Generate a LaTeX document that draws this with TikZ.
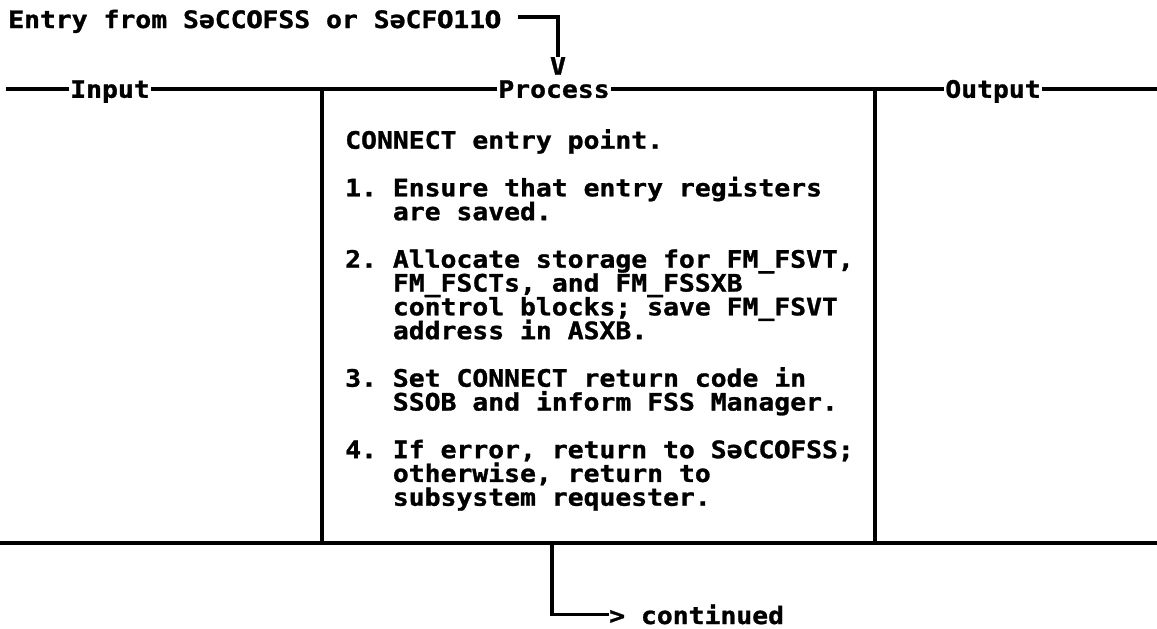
\documentclass[tikz,border=0pt]{standalone}
\usepackage{fontspec}
\newfontfamily\ibmfont[FakeStretch=1.1,BoldFeatures={FakeBold=1.2}]{DejaVu Sans Mono}
\newfontfamily\zerofont[BoldFeatures={FakeBold=1.2}]{DejaVu Sans}
\newlength\mycw \setlength\mycw{15.9pt}
\newcommand\zr{\makebox[\mycw][c]{\zerofont\bfseries 0}}
\newcommand\ind{\hspace*{3\mycw}}
\begin{document}
\begin{tikzpicture}[x=1pt,y=-1pt,
  rule/.style={line width=3.2pt},
  txt/.style={inner sep=0pt,
    font={\ibmfont\bfseries\fontsize{24}{23.8}\selectfont\frenchspacing\lineskiplimit=-100pt}},
  head/.style={txt,inner xsep=1pt,text height=17.5pt,text depth=0pt}]
\useasboundingbox (0,0) rectangle (1157,629);
% entry
\node[txt,anchor=base west] (entry) at (8,28) {Entry from SəCC\zr FSS or SəCF\zr 11\zr};
\node[txt] (vtip) at (558,66) {V};
\draw[rule] ([shift={(17,-11)}]entry.base east) -| (vtip.north);
% header
\coordinate (hl) at (6,89);
\coordinate (hr) at (1157,89);
\node[head] (input) at (110,89) {Input};
\node[head] (process) at (554,89) {Process};
\node[head] (output) at (993,89) {Output};
\draw[rule] (hl) -- (input.west);
\draw[rule] (input.east) -- (process.west);
\draw[rule] (process.east) -- (output.west);
\draw[rule] (output.east) -- (hr);
% dividers and bottom
\coordinate (d1t) at (322,89);
\coordinate (d1b) at (322,543);
\coordinate (d2t) at (875,89);
\coordinate (d2b) at (875,543);
\coordinate (bl) at (0,543);
\coordinate (br) at (1157,543);
\draw[rule] (d1t) -- (d1b);
\draw[rule] (d2t) -- (d2b);
\draw[rule] (bl) -- (br);
% body
\node[txt,anchor=north west,align=left] (steps) at (345,129) {CONNECT entry point.\\[23.8pt]
1. Ensure that entry registers\\
\ind are saved.\\[23.8pt]
2. Allocate storage for FM\_FSVT,\\
\ind FM\_FSCTs, and FM\_FSSXB\\
\ind control blocks; save FM\_FSVT\\
\ind address in ASXB.\\[23.8pt]
3. Set CONNECT return code in\\
\ind SSOB and inform FSS Manager.\\[23.8pt]
4. If error, return to SəCC\zr FSS;\\
\ind otherwise, return to\\
\ind subsystem requester.};
% continued
\coordinate (bs) at (552,543);
\node[txt,anchor=base west] (cont) at (609,624) {> continued};
\draw[rule] (bs) |- (cont.west);
\end{tikzpicture}
\end{document}
